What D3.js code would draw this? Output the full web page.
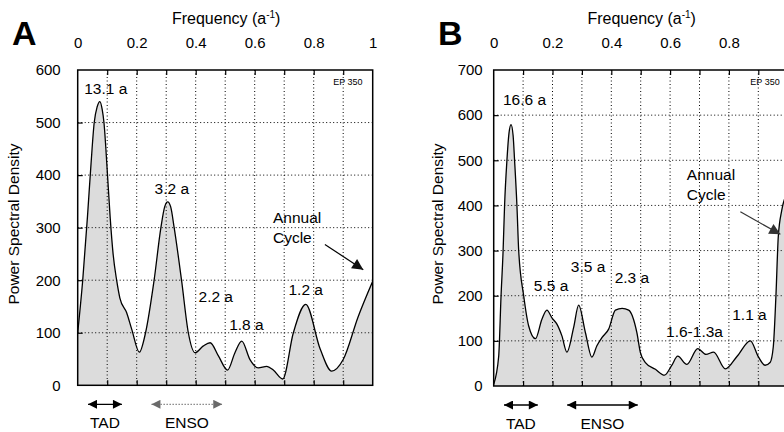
<!DOCTYPE html>
<html>
<head>
<meta charset="utf-8">
<script src="https://cdn.jsdelivr.net/npm/d3@7"></script>
<style>
body { margin: 0; background: #fff; }
text { font-family: "Liberation Sans", Arial, Helvetica, sans-serif; }
</style>
</head>
<body>
<script>
// Panel A spectrum
var freqA = [0, 0.017, 0.033, 0.045, 0.056, 0.066, 0.075, 0.083, 0.089, 0.1, 0.11, 0.12, 0.132, 0.143, 0.166, 0.183, 0.209, 0.23, 0.259, 0.282, 0.295, 0.305, 0.315, 0.327, 0.352, 0.375, 0.398, 0.426, 0.449, 0.477, 0.508, 0.533, 0.556, 0.584, 0.612, 0.641, 0.663, 0.695, 0.731, 0.773, 0.822, 0.861, 0.9, 0.951, 1.0];
var psdA  = [100, 200, 320, 420, 500, 530, 540, 525, 500, 410, 320, 250, 200, 166, 138, 107, 63, 100, 200, 300, 340, 349, 340, 300, 200, 100, 62, 75, 81, 56, 29, 62, 84, 49, 33, 36, 29, 12, 100, 154, 69, 27, 49, 131, 198];

// Panel B spectrum
var freqB = [0, 0.017, 0.025, 0.032, 0.037, 0.045, 0.052, 0.059, 0.066, 0.071, 0.079, 0.085, 0.102, 0.119, 0.142, 0.164, 0.181, 0.198, 0.215, 0.232, 0.249, 0.272, 0.289, 0.312, 0.334, 0.351, 0.368, 0.391, 0.414, 0.437, 0.459, 0.487, 0.499, 0.516, 0.55, 0.581, 0.605, 0.626, 0.657, 0.694, 0.722, 0.748, 0.788, 0.828, 0.873, 0.9, 0.923, 0.94, 0.951, 0.96, 0.968, 0.98, 1.0];
var psdB  = [4, 66, 200, 300, 400, 500, 560, 579, 555, 500, 400, 300, 200, 133, 105, 148, 168, 151, 137, 111, 75, 130, 179, 118, 64, 89, 107, 126, 168, 172, 168, 118, 74, 52, 37, 24, 45, 66, 48, 83, 70, 75, 38, 66, 100, 65, 46, 52, 87, 200, 331, 390, 430];

// axes
var xTickValues = [0, 0.2, 0.4, 0.6, 0.8, 1];
var xTickLabels = ["0", "0.2", "0.4", "0.6", "0.8", "1"];
var xGridValues = [0.1, 0.2, 0.3, 0.4, 0.5, 0.6, 0.7, 0.8, 0.9];
var yTicksA = [0, 100, 200, 300, 400, 500, 600];
var yTicksB = [0, 100, 200, 300, 400, 500, 600, 700];

// peak labels (frequency, psd of label centre)
var labelTextA = ["13.1 a", "3.2 a", "2.2 a", "1.8 a", "1.2 a"];
var labelFreqA = [0.095, 0.319, 0.468, 0.572, 0.773];
var labelPsdA  = [565, 375, 170, 116, 183];
var labelTextB = ["16.6 a", "5.5 a", "3.5 a", "2.3 a", "1.6-1.3a", "1.1 a"];
var labelFreqB = [0.105, 0.195, 0.321, 0.470, 0.683, 0.870];
var labelPsdB  = [634, 222, 266, 240, 122, 159];

// band ranges below the axis
var bandNames = ["TAD", "ENSO"];
var bandFrom  = [0.035, 0.25];
var bandTo    = [0.15, 0.49];

var svg = d3.select('body').append('svg')
    .attr('width', 784)
    .attr('height', 432);

var defs = svg.append('defs');
function marker(id, color, len, wid) {
  defs.append('marker')
      .attr('id', id)
      .attr('viewBox', '0 0 10 10')
      .attr('refX', 10).attr('refY', 5)
      .attr('markerUnits', 'userSpaceOnUse')
      .attr('markerWidth', len).attr('markerHeight', wid)
      .attr('orient', 'auto-start-reverse')
    .append('path')
      .attr('d', 'M0,0L10,5L0,10Z')
      .attr('fill', color);
}
marker('hBlack', '#000', 11, 9);
marker('hGray', '#6a6a6a', 11, 9);
marker('hBig', '#111', 15, 11);
marker('hBigGray', '#333', 15, 11);

function drawPanel(p) {
  var g = svg.append('g');
  var x = d3.scaleLinear().domain([0, 1]).range([p.left, p.right]);
  var y = d3.scaleLinear().domain([0, p.yMax]).range([p.bottom, p.top]);
  var pts = p.freq.map(function (f, i) { return [f, p.psd[i]]; });

  var clip = 'clip' + p.letter;
  defs.append('clipPath').attr('id', clip).append('rect')
      .attr('x', p.left).attr('y', p.top)
      .attr('width', p.right - p.left).attr('height', p.bottom - p.top);

  // filled spectrum
  g.append('path')
      .datum(pts)
      .attr('clip-path', 'url(#' + clip + ')')
      .attr('fill', '#dcdcdc')
      .attr('d', d3.area()
        .x(function (d) { return x(d[0]); })
        .y0(y(0))
        .y1(function (d) { return y(d[1]); })
        .curve(d3.curveMonotoneX));

  // dotted grid
  g.selectAll('.gx').data(xGridValues).enter().append('line')
      .attr('x1', function (d) { return x(d); }).attr('x2', function (d) { return x(d); })
      .attr('y1', p.top).attr('y2', p.bottom)
      .attr('stroke', '#000').attr('stroke-width', 1).attr('stroke-dasharray', '1,2.5');
  g.selectAll('.gy').data(p.yTicks.slice(1, -1)).enter().append('line')
      .attr('x1', p.left).attr('x2', p.right)
      .attr('y1', function (d) { return y(d); }).attr('y2', function (d) { return y(d); })
      .attr('stroke', '#000').attr('stroke-width', 1).attr('stroke-dasharray', '1,2.5');

  // curve
  g.append('path')
      .datum(pts)
      .attr('clip-path', 'url(#' + clip + ')')
      .attr('fill', 'none')
      .attr('stroke', '#000')
      .attr('stroke-width', 1.3)
      .attr('d', d3.line()
        .x(function (d) { return x(d[0]); })
        .y(function (d) { return y(d[1]); })
        .curve(d3.curveMonotoneX));

  // inner tick marks
  var tTop = g.append('g').attr('transform', 'translate(0,' + p.top + ')')
      .call(d3.axisTop(x).tickValues(xGridValues).tickSize(-5).tickFormat(''));
  var tBot = g.append('g').attr('transform', 'translate(0,' + p.bottom + ')')
      .call(d3.axisBottom(x).tickValues(xGridValues).tickSize(-5).tickFormat(''));
  var tLeft = g.append('g').attr('transform', 'translate(' + p.left + ',0)')
      .call(d3.axisLeft(y).tickValues(p.yTicks.slice(1, -1)).tickSize(-5).tickFormat(''));
  [tTop, tBot, tLeft].forEach(function (a) {
    a.select('.domain').remove();
    a.selectAll('line').attr('stroke-width', 1.2);
  });

  // frame
  g.append('rect')
      .attr('x', p.left).attr('y', p.top)
      .attr('width', p.right - p.left).attr('height', p.bottom - p.top)
      .attr('fill', 'none').attr('stroke', '#000').attr('stroke-width', 1.5);

  // top frequency labels (only those that fall on the page)
  var shown = xTickValues.filter(function (d) { return x(d) < 780; });
  var ax = g.append('g').attr('transform', 'translate(0,51)')
      .call(d3.axisTop(x).tickValues(shown).tickSize(0).tickPadding(3)
        .tickFormat(function (d) { return xTickLabels[xTickValues.indexOf(d)]; }));
  ax.select('.domain').remove();
  ax.attr('font-family', null).attr('font-size', 15);
  ax.selectAll('text').attr('fill', '#000');

  // left psd labels
  var ay = g.append('g').attr('transform', 'translate(' + p.left + ',0)')
      .call(d3.axisLeft(y).tickValues(p.yTicks).tickSize(0).tickPadding(p.yGap));
  ay.select('.domain').remove();
  ay.attr('font-family', null).attr('font-size', 15);
  ay.selectAll('text').attr('fill', '#000');

  // axis titles
  var ft = g.append('text')
      .attr('x', (p.left + p.right) / 2 + 1).attr('y', 24)
      .attr('text-anchor', 'middle').attr('font-size', 16)
      .text('Frequency (a');
  ft.append('tspan').attr('font-size', 10).attr('dy', -6).text('-1');
  ft.append('tspan').attr('dy', 6).text(')');

  g.append('text')
      .attr('transform', 'translate(' + (p.left - p.ytGap) + ',' + 224 + ') rotate(-90)')
      .attr('text-anchor', 'middle').attr('font-size', 15.5)
      .text('Power Spectral Density');

  g.append('text')
      .attr('x', p.letterX).attr('y', 45)
      .attr('font-size', 34).attr('font-weight', 'bold')
      .text(p.letter);

  // peak labels
  g.selectAll('.pk').data(p.labels).enter().append('text')
      .attr('x', function (d, i) { return x(p.labelFreq[i]); })
      .attr('y', function (d, i) { return y(p.labelPsd[i]); })
      .attr('dy', '0.36em')
      .attr('text-anchor', 'middle').attr('font-size', 15.5)
      .text(function (d) { return d; });

  g.append('text')
      .attr('x', x(p.epFreq)).attr('y', y(p.epPsd)).attr('dy', '0.36em')
      .attr('text-anchor', 'middle').attr('font-size', 9)
      .text('EP 350');

  // annual cycle
  var an = g.append('text').attr('font-size', 15.5);
  an.append('tspan').attr('x', x(p.annualFreq)).attr('y', y(p.annualPsd)).attr('dy', '0.36em').text('Annual');
  an.append('tspan').attr('x', x(p.annualFreq)).attr('y', y(p.annualPsd) + 20).attr('dy', '0.36em').text('Cycle');
  g.append('line')
      .attr('x1', x(p.arrow[0])).attr('y1', y(p.arrow[1]))
      .attr('x2', x(p.arrow[2])).attr('y2', y(p.arrow[3]))
      .attr('stroke', p.arrowColor).attr('stroke-width', 1.2)
      .attr('marker-end', 'url(#' + p.arrowHead + ')');

  // band arrows
  bandNames.forEach(function (name, i) {
    var gray = p.ensoGray && name === 'ENSO';
    g.append('line')
        .attr('x1', x(bandFrom[i])).attr('x2', x(bandTo[i]))
        .attr('y1', p.bottom + 19).attr('y2', p.bottom + 19)
        .attr('stroke', gray ? '#6a6a6a' : '#000')
        .attr('stroke-width', gray ? 1 : 1.3)
        .attr('stroke-dasharray', gray ? '1.5,1.5' : null)
        .attr('marker-start', 'url(#' + (gray ? 'hGray' : 'hBlack') + ')')
        .attr('marker-end', 'url(#' + (gray ? 'hGray' : 'hBlack') + ')');
    g.append('text')
        .attr('x', (x(bandFrom[i]) + x(bandTo[i])) / 2)
        .attr('y', p.bottom + 43)
        .attr('text-anchor', 'middle').attr('font-size', 15.5)
        .text(name);
  });
}

drawPanel({
  letter: 'A', letterX: 12,
  left: 77.7, right: 372.7, top: 70, bottom: 385.3,
  yMax: 600, yTicks: yTicksA, yGap: 17, ytGap: 59,
  freq: freqA, psd: psdA,
  labels: labelTextA, labelFreq: labelFreqA, labelPsd: labelPsdA,
  epFreq: 0.916, epPsd: 578,
  annualFreq: 0.662, annualPsd: 320,
  arrow: [0.838, 268, 0.968, 220], arrowColor: '#000', arrowHead: 'hBig',
  ensoGray: true
});

drawPanel({
  letter: 'B', letterX: 438,
  left: 493.7, right: 787.7, top: 70, bottom: 386,
  yMax: 700, yTicks: yTicksB, yGap: 11, ytGap: 51,
  freq: freqB, psd: psdB,
  labels: labelTextB, labelFreq: labelFreqB, labelPsd: labelPsdB,
  epFreq: 0.923, epPsd: 675,
  annualFreq: 0.657, annualPsd: 468,
  arrow: [0.839, 386, 0.975, 336], arrowColor: '#333', arrowHead: 'hBigGray',
  ensoGray: false
});
</script>
</body>
</html>
